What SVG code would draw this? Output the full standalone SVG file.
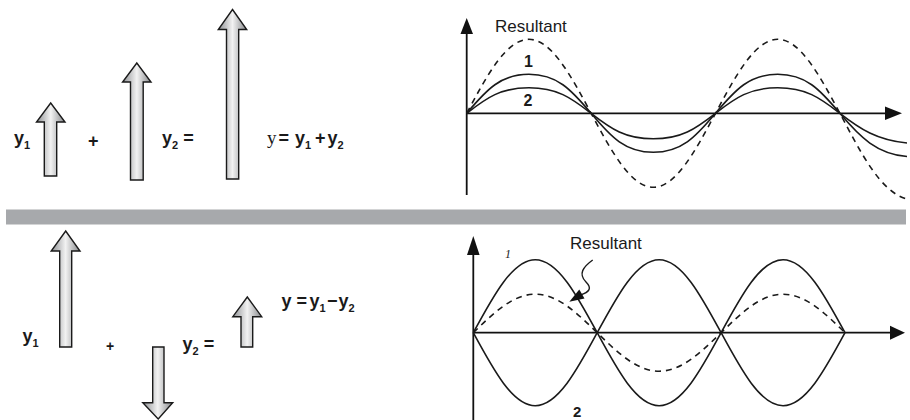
<svg xmlns="http://www.w3.org/2000/svg" width="910" height="420" viewBox="0 0 910 420">
<defs>
<linearGradient id="ag" x1="0" y1="0" x2="1" y2="0">
<stop offset="0" stop-color="#8e9093"/>
<stop offset="0.5" stop-color="#f2f2f2"/>
<stop offset="1" stop-color="#86888b"/>
</linearGradient>
</defs>
<style>
.arr{fill:url(#ag);stroke:#1a1a1a;stroke-width:1.4;stroke-linejoin:miter}
.ax{stroke:#111;stroke-width:1.8;fill:none}
.ah{fill:#111;stroke:none}
.w{stroke:#1a1a1a;stroke-width:1.6;fill:none}
.d{stroke:#1a1a1a;stroke-width:1.6;fill:none;stroke-dasharray:6 5}
.b{font-family:"Liberation Sans",Arial,sans-serif;font-weight:bold;fill:#1a1a1a}
.r{font-family:"Liberation Sans",Arial,sans-serif;fill:#1a1a1a}
.s{font-family:"Liberation Serif","Times New Roman",serif;fill:#1a1a1a}
</style>

<rect id="divider" x="6" y="209.5" width="900" height="15" fill="#a7a9ac"/>

<!-- Top: addition of vectors -->
<g id="top-arrow-y1"><path class="arr" d="M50.7,103 L65,122 L56.7,122 L56.7,176 L44.3,176 L44.3,122 L36.5,122 Z"/></g>
<g id="top-arrow-y2"><path class="arr" d="M136.8,63 L151,82 L143.2,82 L143.2,180 L130.5,180 L130.5,82 L122.6,82 Z"/></g>
<g id="top-arrow-y"><path class="arr" d="M232.5,9.5 L246.7,29.5 L238.7,29.5 L238.7,179 L226.5,179 L226.5,29.5 L218.3,29.5 Z"/></g>
<g id="top-texts">
<text class="b" x="14" y="144" font-size="18">y<tspan font-size="11" dy="5">1</tspan></text>
<text class="b" x="88" y="147" font-size="18">+</text>
<text class="b" x="162" y="144" font-size="18">y<tspan font-size="11" dy="5">2</tspan><tspan dy="-5"> =</tspan></text>
<text class="s" x="267" y="144" font-size="19">y</text>
<text class="b" x="278.5" y="144" font-size="18">=</text>
<text class="b" x="295" y="144" font-size="18">y<tspan font-size="11" dy="5">1</tspan></text>
<text class="b" x="315" y="144" font-size="18">+</text>
<text class="b" x="327.5" y="144" font-size="18">y<tspan font-size="11" dy="5">2</tspan></text>
</g>

<!-- Top graph -->
<g id="top-graph">
<path class="ax" d="M466.7,195 L466.7,32"/>
<polygon class="ah" points="466.7,18 460.5,34 473,34"/>
<path class="ax" d="M466.7,113.3 L887,113.3"/>
<polygon class="ah" points="902,113.3 885,106.5 885,120"/>
<path class="w" d="M466.7,113.3 C487,89.1 500.9,74.3 528.9,74.3 C556.9,74.3 570.8,89.1 591.1,113.3 C611.4,137.5 625.3,152.3 653.3,152.3 C681.3,152.3 695.2,137.5 715.5,113.3 C735.8,89.1 749.7,74.3 777.7,74.3 C805.7,74.3 819.6,89.1 839.9,113.3 C860.2,137.5 877,154 907,156.5"/>
<path class="w" d="M466.7,113.3 C487,97.5 500.9,87.8 528.9,87.8 C556.9,87.8 570.8,97.5 591.1,113.3 C611.4,129.1 625.3,138.8 653.3,138.8 C681.3,138.8 695.2,129.1 715.5,113.3 C735.8,97.5 749.7,87.8 777.7,87.8 C805.7,87.8 819.6,97.5 839.9,113.3 C860.2,129.1 877,140 907,143"/>
<path class="d" d="M466.7,113.3 C487,75.4 506.4,39.3 528.9,39.3 C551.4,39.3 570.8,75.4 591.1,113.3 C611.4,151.2 630.8,187.3 653.3,187.3 C675.8,187.3 695.2,151.2 715.5,113.3 C735.8,75.4 755.2,39.3 777.7,39.3 C800.2,39.3 819.6,75.4 839.9,113.3 C860.2,151.2 880,192 907,199"/>
<text class="r" x="495" y="31.5" font-size="17">Resultant</text>
<text class="b" x="524" y="66.7" font-size="16">1</text>
<text class="b" x="523.5" y="106" font-size="16">2</text>
</g>

<!-- Bottom: subtraction of vectors -->
<g id="bottom-arrow-y1"><path class="arr" d="M65.7,231 L80,251 L71.7,251 L71.7,347 L59.7,347 L59.7,251 L51.2,251 Z"/></g>
<g id="bottom-arrow-y2"><path class="arr" d="M152.7,347 L164,347 L164,402.7 L172.7,402.7 L158.2,419 L142.8,402.7 L152.7,402.7 Z"/></g>
<g id="bottom-arrow-y"><path class="arr" d="M247.3,297 L261.7,316.7 L252.7,316.7 L252.7,347 L241,347 L241,316.7 L232.8,316.7 Z"/></g>
<g id="bottom-texts">
<text class="b" x="22.5" y="342" font-size="18">y<tspan font-size="11" dy="5">1</tspan></text>
<text class="b" x="106" y="351" font-size="14">+</text>
<text class="b" x="182.5" y="350" font-size="18">y<tspan font-size="11" dy="5">2</tspan><tspan dy="-5"> =</tspan></text>
<text class="b" x="281.5" y="307" font-size="18">y</text>
<text class="b" x="296.5" y="307" font-size="18">=</text>
<text class="b" x="309.5" y="307" font-size="18">y<tspan font-size="11" dy="5">1</tspan></text>
<text class="b" x="327" y="307" font-size="18">−</text>
<text class="b" x="338.5" y="307" font-size="18">y<tspan font-size="11" dy="5">2</tspan></text>
</g>

<!-- Bottom graph -->
<g id="bottom-graph">
<path class="ax" d="M473.3,420 L473.3,252"/>
<polygon class="ah" points="473.3,236 467,255 479.6,255"/>
<path class="ax" d="M473.3,332.7 L892,332.7"/>
<polygon class="ah" points="905,332.7 890,325.7 890,339.7"/>
<path class="w" d="M473.3,332.7 C493.5,295.3 512.8,259.7 535.25,259.7 C557.7,259.7 577,295.3 597.2,332.7 C617.4,370.1 636.7,405.7 659.15,405.7 C681.6,405.7 700.9,370.1 721.1,332.7 C741.3,295.3 760.6,259.7 783.05,259.7 C805.5,259.7 824.8,295.3 845,332.7"/>
<path class="w" d="M473.3,332.7 C493.5,370.1 512.8,405.7 535.25,405.7 C557.7,405.7 577,370.1 597.2,332.7 C617.4,295.3 636.7,259.7 659.15,259.7 C681.6,259.7 700.9,295.3 721.1,332.7 C741.3,370.1 760.6,405.7 783.05,405.7 C805.5,405.7 824.8,370.1 845,332.7"/>
<path class="d" d="M473.3,332.7 C493.5,313 512.8,294.2 535.25,294.2 C557.7,294.2 577,313 597.2,332.7 C617.4,352.4 636.7,371.2 659.15,371.2 C681.6,371.2 700.9,352.4 721.1,332.7 C741.3,313 760.6,294.2 783.05,294.2 C805.5,294.2 824.8,313 845,332.7"/>
<text class="r" x="570" y="249" font-size="17">Resultant</text>
<text class="s" x="505" y="257.5" font-size="12" font-style="italic">1</text>
<text class="b" x="573" y="417" font-size="15">2</text>
<path d="M592.7,260 C583,267 578,274 586,282 C592,288 590,292 580,295" fill="none" stroke="#1a1a1a" stroke-width="1.4"/>
<polygon class="ah" points="569.3,301.7 579.3,289.5 584.5,298.5"/>
</g>
</svg>
